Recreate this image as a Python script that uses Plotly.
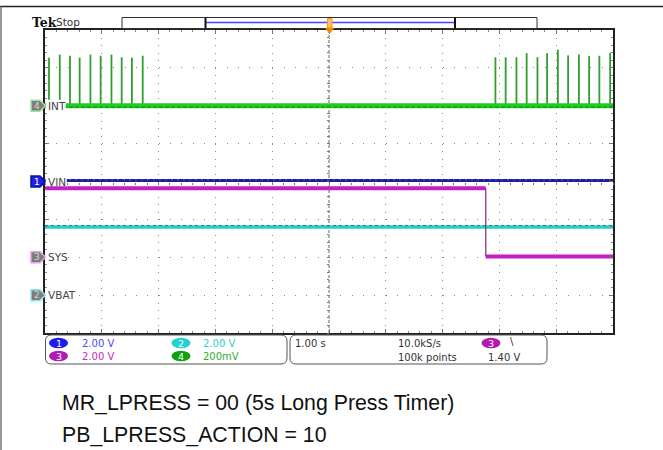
import plotly.graph_objects as go

# ---------------- data ----------------
time_range_s = [-5.0, 5.0]          # 1.00 s/div, 10 divisions
div_range = [-4.0, 4.0]             # 8 vertical divisions

# channel settings: volts/div and ground-marker position (div)
ch_names = ["VIN", "VBAT", "SYS", "INT"]
ch_scale_v = [2.0, 2.0, 2.0, 0.2]
ch_offset_div = [0.0, -3.0, -2.0, 2.0]

# INT (ch4) spikes: times (s) and peak levels (V)
int_spike_t_left = [-4.93, -4.74, -4.56, -4.39, -4.20, -4.02, -3.83, -3.65, -3.47, -3.28]
int_spike_v_left = [0.254, 0.270, 0.264, 0.254, 0.270, 0.264, 0.270, 0.256, 0.254, 0.264]
int_spike_t_right = [2.93, 3.11, 3.30, 3.48, 3.67, 3.84, 4.03, 4.21, 4.40, 4.58, 4.76, 4.95]
int_spike_v_right = [0.256, 0.256, 0.256, 0.278, 0.256, 0.278, 0.296, 0.266, 0.270, 0.262, 0.264, 0.280]
int_base_v = 0.0

vin_v = 0.05
vbat_v = 3.60
sys_high_v = 3.64
sys_low_v = 0.04
sys_drop_t = 2.76

info_left = [["1", "2.00 V", "2", "2.00 V"], ["3", "2.00 V", "4", "200mV"]]
info_right = ["1.00 s", "10.0kS/s", "100k points", "3", "1.40 V"]
notes = ["MR_LPRESS = 00 (5s Long Press Timer)", "PB_LPRESS_ACTION = 10"]


def to_div(ch, v):
    i = ch_names.index(ch)
    return ch_offset_div[i] + v / ch_scale_v[i]


# ---------------- geometry helpers ----------------
W, H = 663, 450
PL, PR, PT, PB = 45, 613, 30, 333


def px(x):
    return (x - PL) / (PR - PL)


def py(y):
    return (PB - y) / (PB - PT)


fig = go.Figure()

# INT baseline + spikes
t0, t1 = time_range_s
spk_t = int_spike_t_left + int_spike_t_right
spk_v = int_spike_v_left + int_spike_v_right
sx, sy = [], []
for t, v in zip(spk_t, spk_v):
    sx += [t, t, None]
    sy += [to_div("INT", int_base_v), to_div("INT", v), None]
fig.add_trace(go.Scatter(x=sx, y=sy, mode="lines", line=dict(color="#2f9f2f", width=1.8)))
fig.add_trace(go.Scatter(x=[t0, t1], y=[to_div("INT", int_base_v)] * 2, mode="lines",
                         line=dict(color="#22cc22", width=5)))
fig.add_trace(go.Scatter(x=[t0, t1], y=[to_div("INT", int_base_v) - 0.035] * 2, mode="lines",
                         line=dict(color="#0a9a0a", width=1.2, dash="4px,2px")))

# VBAT (cyan)
fig.add_trace(go.Scatter(x=[t0, t1], y=[to_div("VBAT", vbat_v)] * 2, mode="lines",
                         line=dict(color="#28cccc", width=3.5)))
fig.add_trace(go.Scatter(x=[t0, t1], y=[to_div("VBAT", vbat_v) + 0.04] * 2, mode="lines",
                         line=dict(color="#1a8a8a", width=1, dash="3px,3px")))

# SYS (magenta)
fig.add_trace(go.Scatter(x=[sys_drop_t, sys_drop_t],
                         y=[to_div("SYS", sys_high_v), to_div("SYS", sys_low_v)],
                         mode="lines", line=dict(color="#7a2a7a", width=1.2)))
fig.add_trace(go.Scatter(x=[t0, sys_drop_t, None, sys_drop_t, t1],
                         y=[to_div("SYS", sys_high_v)] * 2 + [None] + [to_div("SYS", sys_low_v)] * 2,
                         mode="lines", line=dict(color="#c41ec4", width=4)))

# VIN (dark blue)
fig.add_trace(go.Scatter(x=[t0, t1], y=[to_div("VIN", vin_v)] * 2, mode="lines",
                         line=dict(color="#1c1c9c", width=3)))
fig.add_trace(go.Scatter(x=[t0, t1], y=[to_div("VIN", vin_v) + 0.02] * 2, mode="lines",
                         line=dict(color="#5a5ad8", width=1, dash="2px,4px")))

# invisible trace to create centre axes (graticule ticks)
fig.add_trace(go.Scatter(x=[0], y=[0], xaxis="x2", yaxis="y2", mode="markers",
                         marker=dict(opacity=0), hoverinfo="skip"))

shapes = []
# centre cross lines
shapes.append(dict(type="line", xref="x", yref="paper", x0=0, x1=0, y0=0, y1=1,
                   line=dict(color="#666", width=1, dash="3px,2px"), layer="below"))
shapes.append(dict(type="line", xref="paper", yref="y", x0=0, x1=1, y0=0, y1=0,
                   line=dict(color="#666", width=1, dash="3px,2px"), layer="below"))

# outer frame
shapes.append(dict(type="line", xref="paper", yref="paper", x0=px(0), x1=px(W), y0=py(6.5), y1=py(6.5),
                   line=dict(color="#222", width=1.5)))
shapes.append(dict(type="line", xref="paper", yref="paper", x0=px(1), x1=px(1), y0=py(6.5), y1=py(H),
                   line=dict(color="#777", width=1.5)))

# record bar
shapes.append(dict(type="rect", xref="paper", yref="paper", x0=px(122), x1=px(537), y0=py(17.5), y1=py(28.5),
                   line=dict(color="#333", width=1), fillcolor="white"))
shapes.append(dict(type="line", xref="paper", yref="paper", x0=px(206), x1=px(455), y0=py(22.5), y1=py(22.5),
                   line=dict(color="#4646ff", width=1.5)))
for xb in (205.5, 455):
    shapes.append(dict(type="line", xref="paper", yref="paper", x0=px(xb), x1=px(xb), y0=py(17.5), y1=py(28.5),
                       line=dict(color="#111", width=2)))
# trigger marker
shapes.append(dict(type="rect", xref="paper", yref="paper", x0=px(327.5), x1=px(332), y0=py(18.5), y1=py(28),
                   line=dict(color="#f39a1e", width=1), fillcolor="#ffc060"))
shapes.append(dict(type="path", xref="paper", yref="paper",
                   path=f"M{px(325.5)},{py(28)} L{px(334)},{py(28)} L{px(329.7)},{py(33.5)} Z",
                   line=dict(color="#f08a00", width=0.5), fillcolor="#f08a00"))

annotations = []


def text(x, y, s, size, color, family="DejaVu Sans", xanchor="left", **kw):
    annotations.append(dict(xref="paper", yref="paper", x=px(x), y=py(y), text=s, showarrow=False,
                            xanchor=xanchor, yanchor="middle",
                            font=dict(family=family, size=size, color=color), **kw))


def badge(yc, num, fill, border, txtcol):
    x0, x1, tip = 31, 40, 45.5
    h = 5.5
    p = (f"M{px(x0)},{py(yc - h)} L{px(x1)},{py(yc - h)} L{px(tip)},{py(yc)} "
         f"L{px(x1)},{py(yc + h)} L{px(x0)},{py(yc + h)} Z")
    shapes.append(dict(type="path", xref="paper", yref="paper", path=p,
                       line=dict(color=border, width=1.5), fillcolor=fill))
    text(36.5, yc, num, 9, txtcol, xanchor="center")


def yc_of(ch):
    d = ch_offset_div[ch_names.index(ch)]
    return PB - (d - div_range[0]) / (div_range[1] - div_range[0]) * (PB - PT)


badge(yc_of("INT"), "4", "#7d7d7d", "#9ee69e", "#d8d8d8")
badge(yc_of("VIN"), "1", "#1f1fe6", "#1010a0", "white")
badge(yc_of("SYS"), "3", "#7d7d7d", "#e89ee8", "#d8d8d8")
badge(yc_of("VBAT"), "2", "#7d7d7d", "#8ee6e6", "#d8d8d8")

label_w = {"INT": 20, "VIN": 21, "SYS": 21, "VBAT": 28}
for ch in ["INT", "VIN", "SYS", "VBAT"]:
    yc = yc_of(ch)
    hh = 6 if ch == "INT" else 4.5
    shapes.append(dict(type="rect", xref="paper", yref="paper", x0=px(45.8), x1=px(45.8 + label_w[ch]),
                       y0=py(yc - hh), y1=py(yc + hh), line=dict(width=0), fillcolor="white"))
    text(46, yc, ch, 10.5, "#444")

# Tek Stop
text(30, 22.5, "<b>Tek</b>", 12.5, "#111", family="DejaVu Serif")
text(54, 22.5, "Stop", 10.5, "#333")


def rounded_rect(x0, y0, x1, y1, r):
    pts = [
        f"M{px(x0 + r)},{py(y0)}", f"L{px(x1 - r)},{py(y0)}", f"Q{px(x1)},{py(y0)} {px(x1)},{py(y0 + r)}",
        f"L{px(x1)},{py(y1 - r)}", f"Q{px(x1)},{py(y1)} {px(x1 - r)},{py(y1)}",
        f"L{px(x0 + r)},{py(y1)}", f"Q{px(x0)},{py(y1)} {px(x0)},{py(y1 - r)}",
        f"L{px(x0)},{py(y0 + r)}", f"Q{px(x0)},{py(y0)} {px(x0 + r)},{py(y0)}", "Z"]
    return " ".join(pts)


shapes.append(dict(type="path", xref="paper", yref="paper", path=rounded_rect(45.5, 335, 287, 364, 6),
                   line=dict(color="#555", width=1)))
shapes.append(dict(type="path", xref="paper", yref="paper", path=rounded_rect(290, 335, 547, 364, 6),
                   line=dict(color="#555", width=1)))


def pill(xc, yc, num, fill):
    shapes.append(dict(type="circle", xref="paper", yref="paper", x0=px(xc - 9.5), x1=px(xc + 9.5),
                       y0=py(yc - 5.3), y1=py(yc + 5.3), line=dict(color=fill, width=0), fillcolor=fill))
    text(xc, yc, num, 9.5, "white", xanchor="center")


row_y = [343, 356]
pill_cols = {"1": "#1c1cf0", "2": "#22d2d2", "3": "#b01cb0", "4": "#12a012"}
val_cols = {"1": "#4a4aff", "2": "#2ed0d0", "3": "#c02ec0", "4": "#2eae2e"}
for r, row in enumerate(info_left):
    for k, (xc, xt) in enumerate([(58.5, 80), (181, 201)]):
        n, val = row[2 * k], row[2 * k + 1]
        pill(xc, row_y[r], n, pill_cols[n])
        text(xt, row_y[r], val, 10, val_cols[n])

txt_col = "#333"
text(293, 343, info_right[0], 10, txt_col)
text(396, 343, info_right[1], 10, txt_col)
text(396, 357, info_right[2], 10, txt_col)
pill(491, 343, info_right[3], pill_cols["3"])
text(508, 341.5, "\\", 10, txt_col)
text(486, 357, info_right[4], 10, txt_col)

# notes below
for i, t in enumerate(notes):
    text(60, 403 + 32 * i, t, 21.3, "#111", family="Liberation Sans")

grid_col = "#8a8a8a"
fig.update_layout(
    width=W, height=H,
    margin=dict(l=PL, r=W - PR, t=PT, b=H - PB, pad=0),
    paper_bgcolor="white", plot_bgcolor="white",
    showlegend=False,
    xaxis=dict(range=time_range_s, dtick=1, showticklabels=False, zeroline=False,
               showgrid=True, gridcolor=grid_col, gridwidth=1, griddash="1px,6.575px",
               showline=True, linecolor="#222", linewidth=1.5, mirror="ticks",
               ticks="inside", ticklen=4, tickcolor="#777",
               minor=dict(dtick=0.2, ticks="inside", ticklen=2.5, tickcolor="#888", showgrid=False),
               fixedrange=True),
    yaxis=dict(range=div_range, dtick=1, showticklabels=False, zeroline=False,
               showgrid=True, gridcolor=grid_col, gridwidth=1, griddash="1px,10.36px",
               showline=True, linecolor="#222", linewidth=1.5, mirror="ticks",
               ticks="inside", ticklen=4, tickcolor="#777",
               minor=dict(dtick=0.2, ticks="inside", ticklen=2.5, tickcolor="#888", showgrid=False),
               fixedrange=True),
    xaxis2=dict(range=time_range_s, overlaying="x", anchor="free", position=0.5, dtick=0.2,
                showticklabels=False, showgrid=False, zeroline=False, showline=False,
                ticks="outside", ticklen=2, tickcolor="#777"),
    yaxis2=dict(range=div_range, overlaying="y", anchor="free", position=0.5, dtick=0.2,
                showticklabels=False, showgrid=False, zeroline=False, showline=False,
                ticks="outside", ticklen=2, tickcolor="#777"),
    shapes=shapes,
    annotations=annotations,
)

fig.write_html("out.html", config={"displayModeBar": False},
               post_script="document.body.style.margin='0';document.body.style.overflow='hidden';")
